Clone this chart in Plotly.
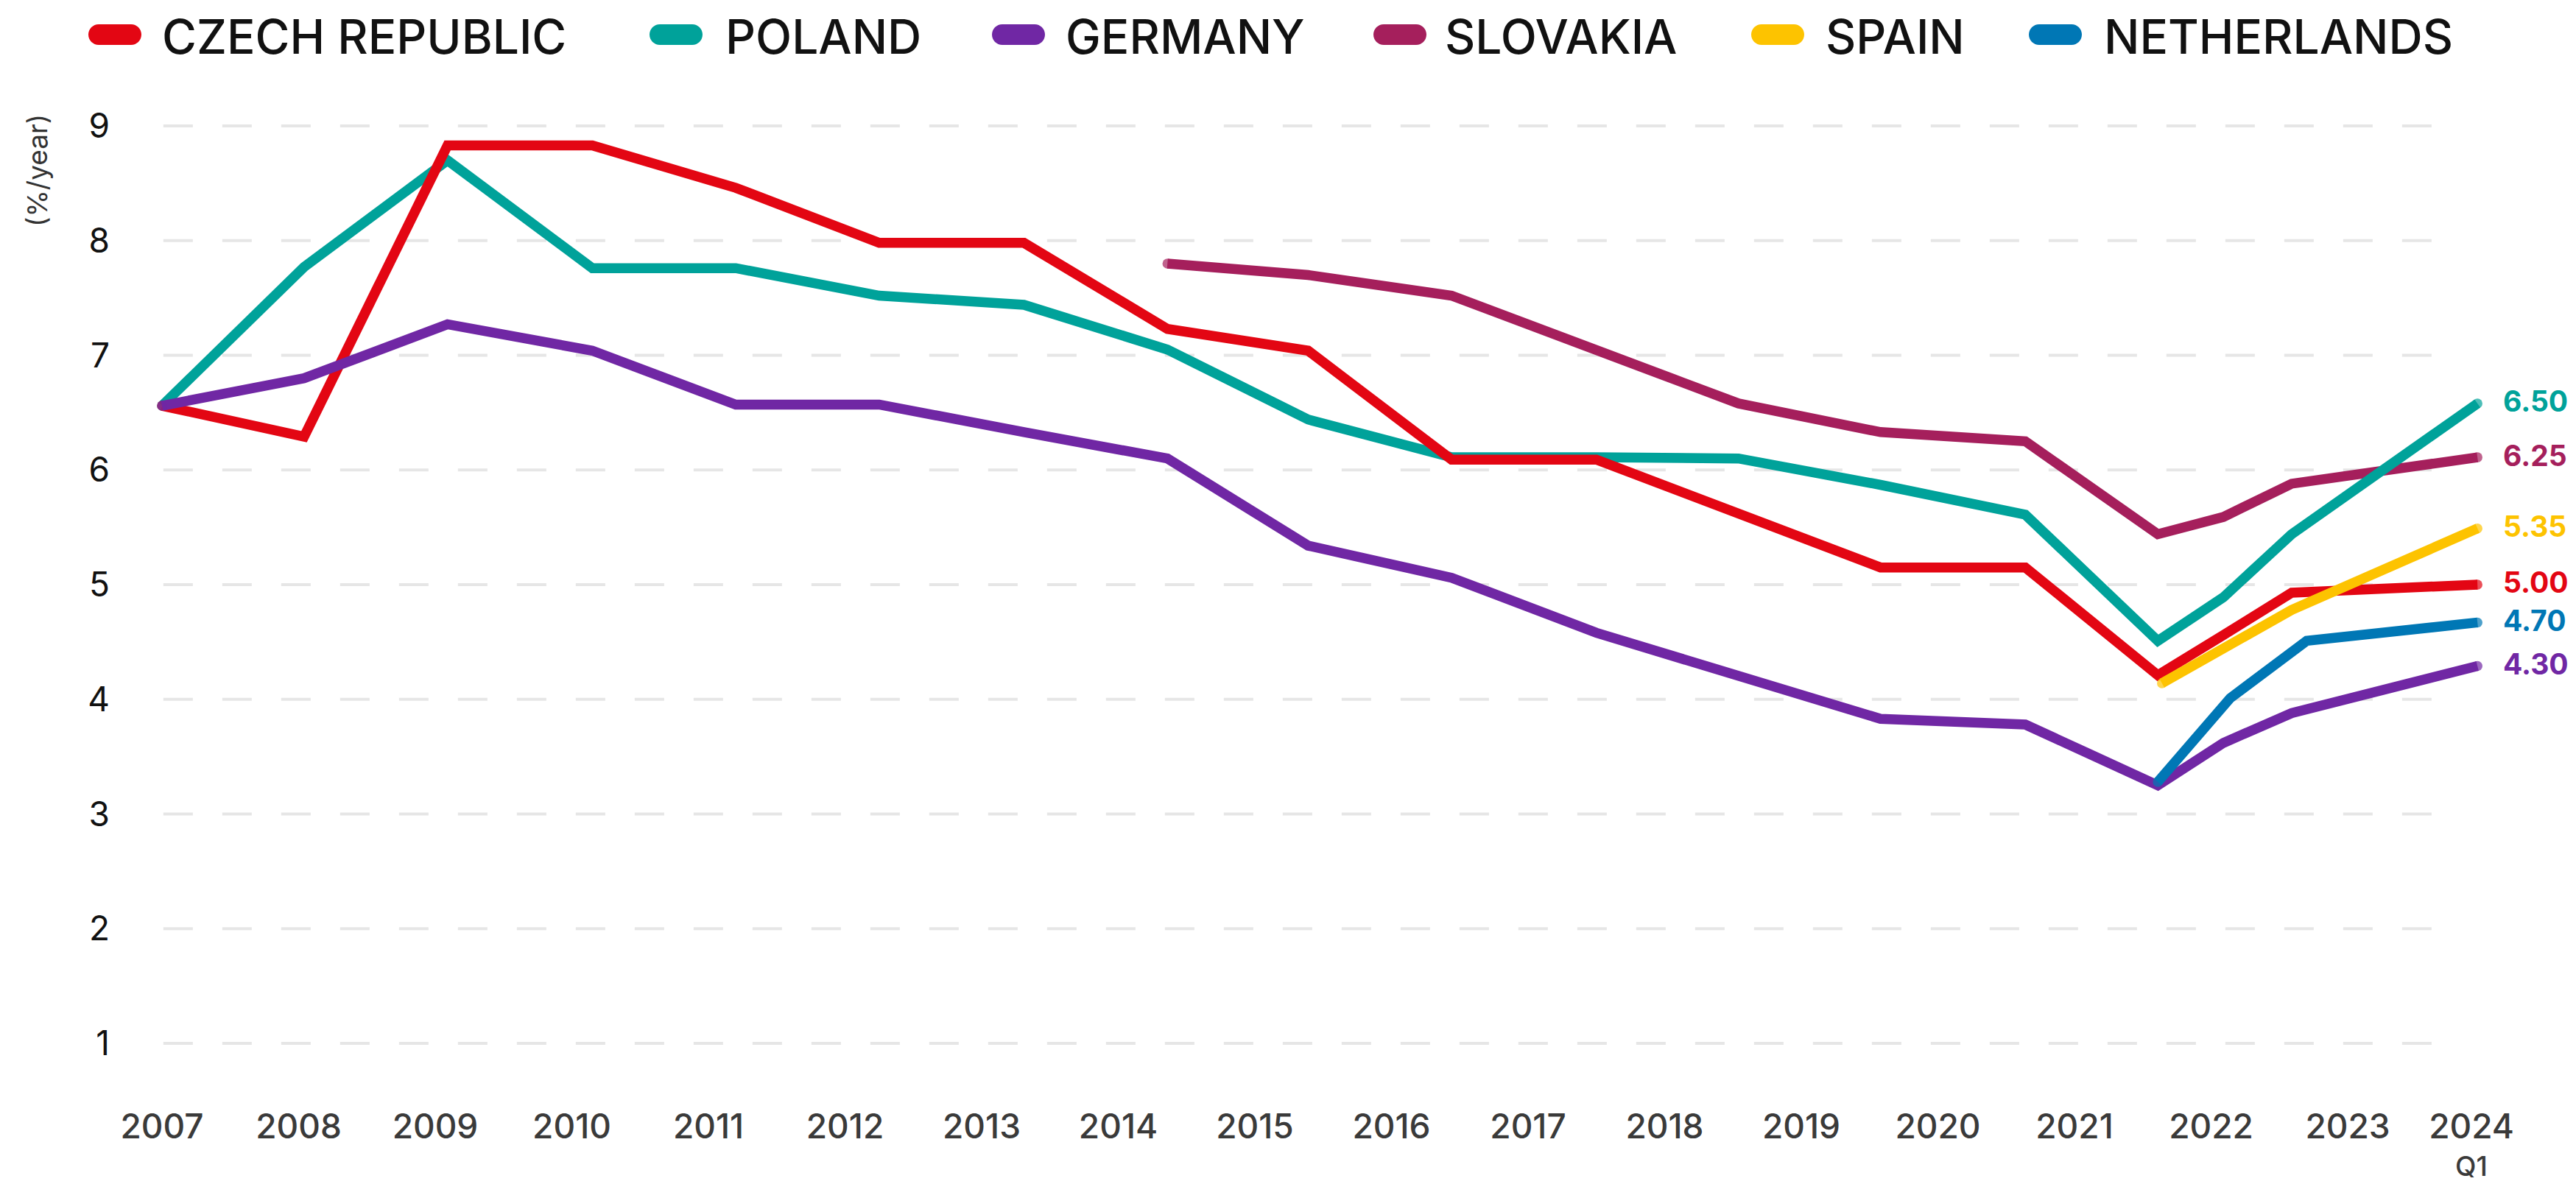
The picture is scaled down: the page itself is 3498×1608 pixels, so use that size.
import plotly.graph_objects as go

# ---------------- data ----------------
series_names = ["CZECH REPUBLIC", "POLAND", "GERMANY", "SLOVAKIA", "SPAIN", "NETHERLANDS"]
colors = {
    "CZECH REPUBLIC": "#E30613",
    "POLAND": "#00A29A",
    "GERMANY": "#7027A4",
    "SLOVAKIA": "#A51F5C",
    "SPAIN": "#FDC300",
    "NETHERLANDS": "#0077B5",
}

x_main = [2007.0, 2008.04, 2009.09, 2010.15, 2011.20, 2012.25, 2013.31, 2014.36,
          2015.39, 2016.44, 2017.50, 2018.54, 2019.58, 2020.64, 2021.61,
          2022.09, 2022.59, 2023.95]

czech = [6.56, 6.29, 8.83, 8.83, 8.46, 7.98, 7.98, 7.23, 7.04, 6.09, 6.09,
         5.62, 5.15, 5.15, 4.21, 4.56, 4.93, 5.00]
poland = [6.56, 7.77, 8.70, 7.76, 7.76, 7.52, 7.44, 7.05, 6.44, 6.11, 6.11,
          6.10, 5.87, 5.61, 4.51, 4.89, 5.44, 6.58]
germany = [6.56, 6.80, 7.27, 7.04, 6.57, 6.57, 6.33, 6.10, 5.34, 5.06, 4.58,
           4.20, 3.83, 3.78, 3.25, 3.62, 3.88, 4.29]
slovakia_x = [2014.36, 2015.39, 2016.44, 2017.50, 2018.54, 2019.58, 2020.64,
              2021.61, 2022.09, 2022.59, 2023.95]
slovakia = [7.80, 7.70, 7.52, 7.04, 6.58, 6.33, 6.25, 5.44, 5.59, 5.88, 6.11]
spain_x = [2021.64, 2022.59, 2023.95]
spain = [4.14, 4.78, 5.49]
netherlands_x = [2021.61, 2022.14, 2022.70, 2023.95]
netherlands = [3.28, 4.01, 4.51, 4.67]

end_labels = {
    "CZECH REPUBLIC": "5.00",
    "POLAND": "6.50",
    "GERMANY": "4.30",
    "SLOVAKIA": "6.25",
    "SPAIN": "5.35",
    "NETHERLANDS": "4.70",
}

year_ticks = [2007, 2008, 2009, 2010, 2011, 2012, 2013, 2014, 2015, 2016,
              2017, 2018, 2019, 2020, 2021, 2022, 2023, 2023.906]
year_labels = ["2007", "2008", "2009", "2010", "2011", "2012", "2013", "2014",
               "2015", "2016", "2017", "2018", "2019", "2020", "2021", "2022",
               "2023", "2024"]
last_tick_sublabel = "Q1"
y_ticks = [1, 2, 3, 4, 5, 6, 7, 8, 9]
y_title = "(%/year)"

series_data = {
    "CZECH REPUBLIC": (x_main, czech),
    "POLAND": (x_main, poland),
    "GERMANY": (x_main, germany),
    "SLOVAKIA": (slovakia_x, slovakia),
    "SPAIN": (spain_x, spain),
    "NETHERLANDS": (netherlands_x, netherlands),
}
draw_order = ["SLOVAKIA", "POLAND", "CZECH REPUBLIC", "SPAIN", "GERMANY", "NETHERLANDS"]

# ---------------- layout geometry ----------------
OFF = 8  # page body margin of the html page
W, H = 3498 - OFF, 1608 - OFF
ML, MR, MT, MB = 165 - OFF, 60, 100 - OFF, 128
PW, PH = W - ML - MR, H - MT - MB
PX_PER_YEAR = 185.5
X0 = 2007 - (220 - 165) / PX_PER_YEAR
X1 = X0 + PW / PX_PER_YEAR
PX_PER_UNIT = 155.75
Y1 = 9 + (171 - 100) / PX_PER_UNIT
Y0 = Y1 - PH / PX_PER_UNIT

FONT = "Inter, Lato, 'Open Sans', sans-serif"
LW = 13.5

def px_to_paper(px, py):
    # px, py are target screen pixels
    return (px - OFF - ML) / PW, (MT + PH - (py - OFF)) / PH

fig = go.Figure()

for name in draw_order:
    xs, ys = series_data[name]
    n = len(xs)
    sizes = [LW if i in (0, n - 1) else 0 for i in range(n)]
    fig.add_trace(go.Scatter(
        x=xs, y=ys, mode="lines+markers", name=name,
        line=dict(color=colors[name], width=LW),
        marker=dict(size=sizes, color=colors[name], line=dict(width=0)),
        showlegend=False, hoverinfo="x+y+name",
    ))

shapes = []
# dashed horizontal gridlines
for v in y_ticks:
    shapes.append(dict(type="line", xref="x", yref="y", x0=2007.01, x1=2023.75,
                       y0=v, y1=v, layer="below",
                       line=dict(color="#E6E6E6", width=4, dash="40px,40px")))

annotations = []
# end-value labels
label_px = 3397
label_x = 2007 + (label_px - 220) / PX_PER_YEAR
for name in series_names:
    xs, ys = series_data[name]
    annotations.append(dict(
        x=label_x, y=ys[-1] + 0.02, xref="x", yref="y", text=end_labels[name],
        showarrow=False, xanchor="left", yanchor="middle",
        font=dict(family=FONT, size=39, color=colors[name], weight=700),
    ))

# second line of the last x tick label ("Q1")
_, qy = px_to_paper(0, 1607)
annotations.append(dict(
    x=year_ticks[-1], y=qy, xref="x", yref="paper", text=last_tick_sublabel,
    showarrow=False, xanchor="center", yanchor="bottom", borderpad=0,
    font=dict(family=FONT, size=37, color="#3A3A3A", weight=500),
))

# custom legend (pill + label)
pill_left = [120, 882, 1347, 1865, 2378, 2755]
text_left = [220, 985, 1447, 1962, 2479, 2857]
pill_w, pill_h, cy = 72, 28, 47
k = 0.5523
for name, pl, tl in zip(series_names, pill_left, text_left):
    x0, x1 = pl, pl + pill_w
    r = pill_h / 2
    yt, yb = cy - r, cy + r
    pts = [
        ("M", [(x0 + r, yt)]),
        ("L", [(x1 - r, yt)]),
        ("C", [(x1 - r + k * r, yt), (x1, cy - k * r), (x1, cy)]),
        ("C", [(x1, cy + k * r), (x1 - r + k * r, yb), (x1 - r, yb)]),
        ("L", [(x0 + r, yb)]),
        ("C", [(x0 + r - k * r, yb), (x0, cy + k * r), (x0, cy)]),
        ("C", [(x0, cy - k * r), (x0 + r - k * r, yt), (x0 + r, yt)]),
    ]
    path = ""
    for cmd, plist in pts:
        coords = " ".join("%.6f,%.6f" % px_to_paper(px, py) for px, py in plist)
        path += f"{cmd}{coords} "
    path += "Z"
    shapes.append(dict(type="path", xref="paper", yref="paper", path=path,
                       fillcolor=colors[name], line=dict(width=0), layer="above"))
    tx, ty = px_to_paper(tl - 2, 49)
    annotations.append(dict(
        x=tx, y=ty, xref="paper", yref="paper", text=name, showarrow=False,
        xanchor="left", yanchor="middle",
        font=dict(family=FONT, size=64, color="#111111", weight=500),
    ))

# y-axis title
ax, ay = px_to_paper(50, 232)
annotations.append(dict(
    x=ax, y=ay, xref="paper", yref="paper", text=y_title, textangle=-90,
    showarrow=False, xanchor="center", yanchor="middle",
    font=dict(family=FONT, size=37, color="#333333"),
))

fig.update_layout(
    width=W, height=H,
    margin=dict(l=ML, r=MR, t=MT, b=MB, pad=0, autoexpand=False),
    paper_bgcolor="white", plot_bgcolor="white",
    shapes=shapes, annotations=annotations,
    xaxis=dict(range=[X0, X1], tickmode="array", tickvals=year_ticks,
               ticktext=year_labels, showgrid=False, zeroline=False,
               showline=False, ticks="", ticklabelstandoff=19, automargin=False,
               tickfont=dict(family=FONT, size=46, color="#3A3A3A", weight=500)),
    yaxis=dict(range=[Y0, Y1], tickmode="array", tickvals=y_ticks,
               showgrid=False, zeroline=False, showline=False, ticks="",
               ticklabelstandoff=15, automargin=False,
               tickfont=dict(family=FONT, size=46, color="#111111")),
    showlegend=False,
)

fig.write_html("out.html")
